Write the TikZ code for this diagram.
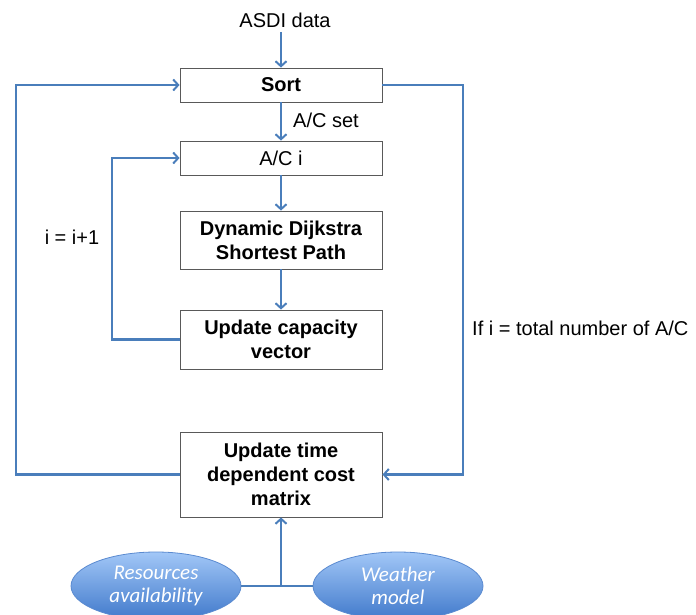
\documentclass[tikz,border=0pt]{standalone}
\usepackage{fontspec}
\setmainfont{Liberation Sans}
\newfontfamily\ellfont{Carlito}
\usetikzlibrary{arrows.meta,shapes.geometric,calc}
\definecolor{lineblue}{HTML}{4A7EBB}
\definecolor{boxgray}{HTML}{595959}
\definecolor{elltop}{HTML}{A2C7F7}
\definecolor{ellbot}{HTML}{4079CB}
\definecolor{ellborder}{HTML}{5A8AD0}
\begin{document}
\begin{tikzpicture}[x=1pt,y=-1pt,
  txt/.style={font=\fontsize{20}{24}\selectfont, inner sep=0pt},
  procbox/.style={draw=boxgray, line width=0.9pt, fill=white, minimum width=202pt,
    align=center, font=\fontsize{20}{24}\selectfont, inner sep=0pt},
  bbox/.style={procbox, font=\fontsize{20}{24}\selectfont\bfseries},
  ellnode/.style={ellipse, draw=ellborder, line width=0.8pt, top color=elltop, bottom color=ellbot,
    minimum width=170pt, minimum height=68pt, inner sep=0pt, align=center, text=white,
    font=\ellfont\itshape\fontsize{21}{23.5}\selectfont},
  conn/.style={draw=lineblue, line width=2.4pt},
  arr/.style={conn, -{Straight Barb[length=5pt,width=11pt,line width=2pt]}}
]
\useasboundingbox (0,0) rectangle (696,615);

\node[txt] (asdi) at (285,20) {ASDI data};
\node[bbox, minimum height=34pt] (sort) at (281,85) {Sort};
\node[procbox, minimum height=34pt] (aci) at (281,158) {A/C i};
\node[bbox, minimum height=58pt] (dijk) at (281,240) {Dynamic Dijkstra\\Shortest Path};
\node[bbox, minimum height=59pt] (cap) at (281,339.5) {Update capacity\\vector};
\node[bbox, minimum height=85pt] (upd) at (281,474.5) {Update time\\dependent cost\\matrix};

\node[ellnode] (res) at (156,586) {Resources\\availability};
\node[ellnode] (wea) at (398,586) {Weather\\model};

\node[txt, anchor=west] (acset) at (293,120) {A/C set};
\node[txt] (incr) at (72,237) {i = i+1};
\node[txt, anchor=west] (ifl) at (472,328) {If i = total number of A/C};

\coordinate (asdiend) at (sort.north |- 0,32);
\coordinate (ol) at (16,0);
\coordinate (il) at (112,0);
\coordinate (rl) at (463,0);

\draw[arr] (asdiend) -- (sort.north);
\draw[arr] (sort.south) -- (aci.north);
\draw[arr] (aci.south) -- (dijk.north);
\draw[arr] (dijk.south) -- (cap.north);

\draw[arr] (cap.west) -- (il |- cap.west) -- (il |- aci.west) -- (aci.west);
\draw[arr] (upd.west) -- (ol |- upd.west) -- (ol |- sort.west) -- (sort.west);
\draw[arr] (sort.east) -- (rl |- sort.east) -- (rl |- upd.east) -- (upd.east);

\coordinate (junc) at (upd.south |- res.east);
\draw[conn] (res.east) -- (wea.west);
\draw[arr] (junc) -- (upd.south);
\end{tikzpicture}
\end{document}
